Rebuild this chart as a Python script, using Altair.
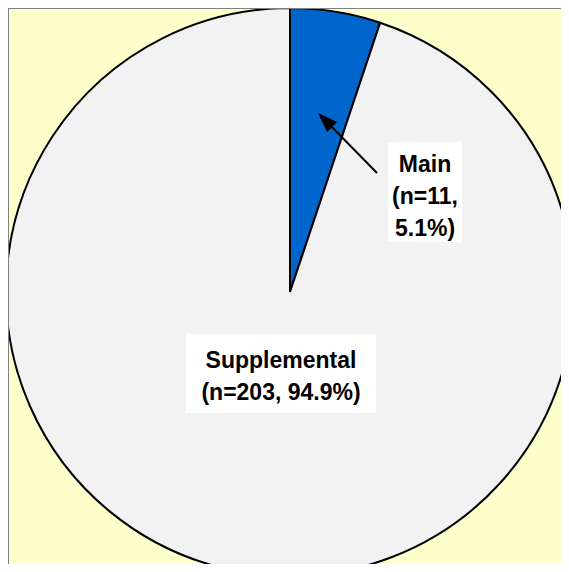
import altair as alt
import pandas as pd

# ---- data ----
categories = ["Main", "Supplemental"]
counts = [11, 203]
percents = [5.1, 94.9]
colors = ["#0066CC", "#F2F2F2"]

main_label = f"{categories[0]}\n(n={counts[0]},\n{percents[0]}%)"
supp_label = f"{categories[1]}\n(n={counts[1]}, {percents[1]}%)"

df = pd.DataFrame({"category": categories, "count": counts, "idx": [0, 1]})

W, H = 553, 556
CX, CY, R = 282, 284, 284
FONT = "Liberation Sans"

pie = alt.Chart(df).mark_arc(radius=R, stroke="black", strokeWidth=2).encode(
    theta=alt.Theta("count:Q", stack=True),
    color=alt.Color("category:N", scale=alt.Scale(domain=categories, range=colors), legend=None),
    order=alt.Order("idx:Q"),
    x=alt.value(CX),
    y=alt.value(CY),
)

one = pd.DataFrame({"a": [0]})

main_box = alt.Chart(one).mark_rect(color="white").encode(
    x=alt.value(380), x2=alt.value(454), y=alt.value(134), y2=alt.value(234)
)
supp_box = alt.Chart(one).mark_rect(color="white").encode(
    x=alt.value(178), x2=alt.value(368), y=alt.value(326), y2=alt.value(405)
)

main_text = alt.Chart(pd.DataFrame({"t": [main_label]})).mark_text(
    font=FONT, fontSize=23, fontWeight="bold", color="black",
    lineBreak="\n", lineHeight=32, align="center", baseline="alphabetic"
).encode(text="t:N", x=alt.value(417), y=alt.value(164))

supp_text = alt.Chart(pd.DataFrame({"t": [supp_label]})).mark_text(
    font=FONT, fontSize=23, fontWeight="bold", color="black",
    lineBreak="\n", lineHeight=32, align="center", baseline="alphabetic"
).encode(text="t:N", x=alt.value(273), y=alt.value(360))

arrow_line = alt.Chart(one).mark_rule(color="black", strokeWidth=2).encode(
    x=alt.value(369), y=alt.value(165), x2=alt.value(318), y2=alt.value(113)
)
arrow_head = alt.Chart(one).mark_point(
    shape="M0,-1L0.7,1L-0.7,1Z", filled=True, color="black", opacity=1, size=400, angle=315
).encode(x=alt.value(317), y=alt.value(112))

border_left = alt.Chart(one).mark_rule(color="#808080", strokeWidth=2).encode(
    x=alt.value(0), y=alt.value(0), y2=alt.value(H)
)
border_top = alt.Chart(one).mark_rule(color="#808080", strokeWidth=2).encode(
    x=alt.value(0), x2=alt.value(W), y=alt.value(0)
)

chart = alt.layer(
    pie, main_box, supp_box, main_text, supp_text, arrow_line, arrow_head, border_left, border_top
).properties(
    width=W, height=H, background="#FFFFCC", padding=0,
    autosize=alt.AutoSizeParams(type="none")
).configure_view(stroke=None, fill="#FFFFCC")

chart.save("out.html", embed_options={"renderer": "svg", "actions": False})
